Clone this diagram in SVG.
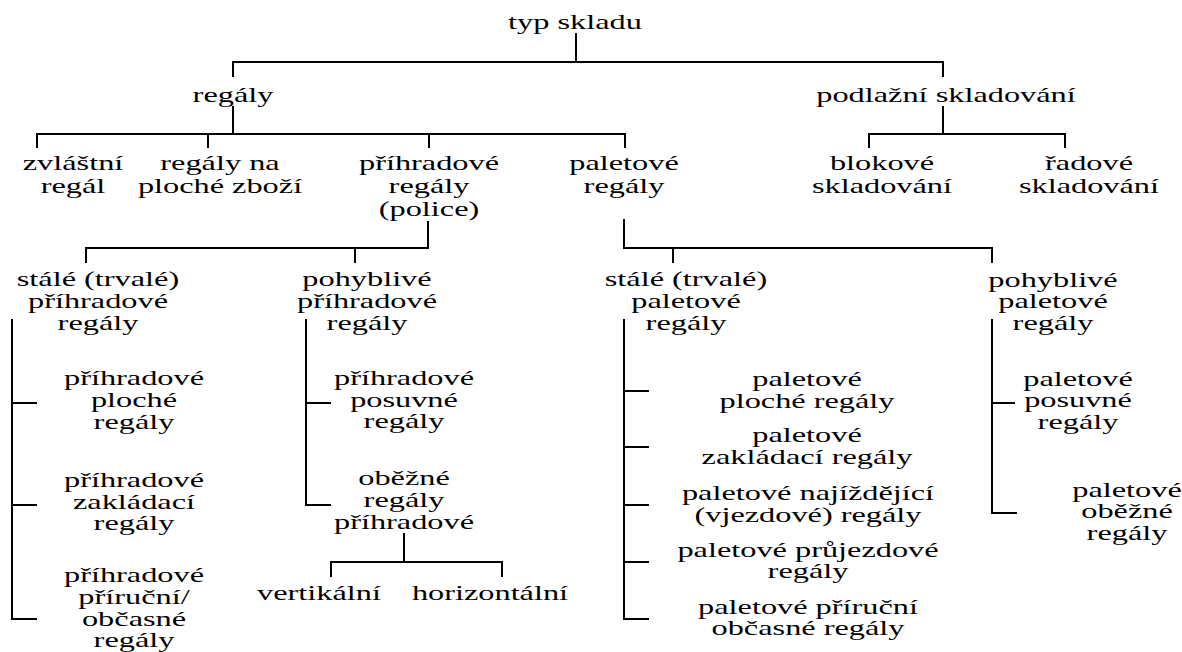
<svg xmlns="http://www.w3.org/2000/svg" width="1182" height="652" viewBox="0 0 1182 652">
<style>
.t{font-family:"Liberation Serif","Times New Roman",serif;font-size:21px;fill:#000;text-anchor:middle}
.c{fill:none;stroke:#000;stroke-width:2}
</style>
<rect width="1182" height="652" fill="#fff"/>
<g id="connectors" class="c">
<path d="M576,33V62M233,77V62H943V77"/>
<path d="M233,106V134M37,148V134H625V148M208,134V148M429,134V148"/>
<path d="M943,106V134M869,148V134H1065V148"/>
<path d="M428,221V248H86V263M355,248V263"/>
<path d="M624,219V248H992V263M673,248V263"/>
<path d="M12,319V619H37M12,403H37M12,505H37"/>
<path d="M306,319V505H331M306,403H331"/>
<path d="M404,533V562M331,577V562H502V577"/>
<path d="M624,319V619H649M624,391H649M624,447H649M624,505H649M624,562H649"/>
<path d="M992,319V513H1017M992,403H1015"/>
</g>
<g id="n-typ" transform="translate(575,0)"><text class="t" transform="scale(1.54,1)" y="29">typ skladu</text></g>
<g id="n-regaly" transform="translate(233,0)"><text class="t" transform="scale(1.54,1)" y="102">regály</text></g>
<g id="n-podlazni" transform="translate(946,0)"><text class="t" transform="scale(1.54,1)" y="102">podlažní skladování</text></g>
<g id="n-zvlastni" transform="translate(73,0)"><text class="t" transform="scale(1.54,1)"><tspan x="0" y="170">zvláštní</tspan><tspan x="0" y="193">regál</tspan></text></g>
<g id="n-plochezbozi" transform="translate(220,0)"><text class="t" transform="scale(1.54,1)"><tspan x="0" y="170">regály na</tspan><tspan x="0" y="193">ploché zboží</tspan></text></g>
<g id="n-prihradove" transform="translate(429,0)"><text class="t" transform="scale(1.54,1)"><tspan x="0" y="170">příhradové</tspan><tspan x="0" y="193">regály</tspan><tspan x="0" y="216">(police)</tspan></text></g>
<g id="n-paletove" transform="translate(624,0)"><text class="t" transform="scale(1.54,1)"><tspan x="0" y="170">paletové</tspan><tspan x="0" y="193">regály</tspan></text></g>
<g id="n-blokove" transform="translate(882,0)"><text class="t" transform="scale(1.54,1)"><tspan x="0" y="170">blokové</tspan><tspan x="0" y="193">skladování</tspan></text></g>
<g id="n-radove" transform="translate(1089,0)"><text class="t" transform="scale(1.54,1)"><tspan x="0" y="170">řadové</tspan><tspan x="0" y="193">skladování</tspan></text></g>
<g id="n-stale-prih" transform="translate(98,0)"><text class="t" transform="scale(1.54,1)"><tspan x="0" y="286">stálé (trvalé)</tspan><tspan x="0" y="308">příhradové</tspan><tspan x="0" y="330">regály</tspan></text></g>
<g id="n-pohyb-prih" transform="translate(367,0)"><text class="t" transform="scale(1.54,1)"><tspan x="0" y="286">pohyblivé</tspan><tspan x="0" y="308">příhradové</tspan><tspan x="0" y="330">regály</tspan></text></g>
<g id="n-stale-pal" transform="translate(686,0)"><text class="t" transform="scale(1.54,1)"><tspan x="0" y="286">stálé (trvalé)</tspan><tspan x="0" y="308">paletové</tspan><tspan x="0" y="330">regály</tspan></text></g>
<g id="n-pohyb-pal" transform="translate(1053,0)"><text class="t" transform="scale(1.54,1)"><tspan x="0" y="287">pohyblivé</tspan><tspan x="0" y="308">paletové</tspan><tspan x="0" y="330">regály</tspan></text></g>
<g id="n-prih-ploche" transform="translate(134,0)"><text class="t" transform="scale(1.54,1)"><tspan x="0" y="385">příhradové</tspan><tspan x="0" y="407">ploché</tspan><tspan x="0" y="429">regály</tspan></text></g>
<g id="n-prih-zaklad" transform="translate(134,0)"><text class="t" transform="scale(1.54,1)"><tspan x="0" y="487">příhradové</tspan><tspan x="0" y="509">zakládací</tspan><tspan x="0" y="530">regály</tspan></text></g>
<g id="n-prih-prirucni" transform="translate(134,0)"><text class="t" transform="scale(1.54,1)"><tspan x="0" y="582">příhradové</tspan><tspan x="0" y="604">příruční/</tspan><tspan x="0" y="626">občasné</tspan><tspan x="0" y="647">regály</tspan></text></g>
<g id="n-prih-posuvne" transform="translate(404,0)"><text class="t" transform="scale(1.54,1)"><tspan x="0" y="385">příhradové</tspan><tspan x="0" y="407">posuvné</tspan><tspan x="0" y="428">regály</tspan></text></g>
<g id="n-obezne-prih" transform="translate(404,0)"><text class="t" transform="scale(1.54,1)"><tspan x="0" y="485">oběžné</tspan><tspan x="0" y="507">regály</tspan><tspan x="0" y="529">příhradové</tspan></text></g>
<g id="n-vertikalni" transform="translate(319,0)"><text class="t" transform="scale(1.54,1)" y="600">vertikální</text></g>
<g id="n-horizontalni" transform="translate(490,0)"><text class="t" transform="scale(1.54,1)" y="600">horizontální</text></g>
<g id="n-pal-ploche" transform="translate(807,0)"><text class="t" transform="scale(1.54,1)"><tspan x="0" y="386">paletové</tspan><tspan x="0" y="408">ploché regály</tspan></text></g>
<g id="n-pal-zaklad" transform="translate(807,0)"><text class="t" transform="scale(1.54,1)"><tspan x="0" y="442">paletové</tspan><tspan x="0" y="464">zakládací regály</tspan></text></g>
<g id="n-pal-najizd" transform="translate(808,0)"><text class="t" transform="scale(1.54,1)"><tspan x="0" y="500">paletové najíždějící</tspan><tspan x="0" y="522">(vjezdové) regály</tspan></text></g>
<g id="n-pal-prujezd" transform="translate(808,0)"><text class="t" transform="scale(1.54,1)"><tspan x="0" y="557">paletové průjezdové</tspan><tspan x="0" y="578">regály</tspan></text></g>
<g id="n-pal-prirucni" transform="translate(808,0)"><text class="t" transform="scale(1.54,1)"><tspan x="0" y="614">paletové příruční</tspan><tspan x="0" y="635">občasné regály</tspan></text></g>
<g id="n-pal-posuvne" transform="translate(1078,0)"><text class="t" transform="scale(1.54,1)"><tspan x="0" y="386">paletové</tspan><tspan x="0" y="407">posuvné</tspan><tspan x="0" y="429">regály</tspan></text></g>
<g id="n-pal-obezne" transform="translate(1127,0)"><text class="t" transform="scale(1.54,1)"><tspan x="0" y="497">paletové</tspan><tspan x="0" y="518">oběžné</tspan><tspan x="0" y="540">regály</tspan></text></g>
</svg>
